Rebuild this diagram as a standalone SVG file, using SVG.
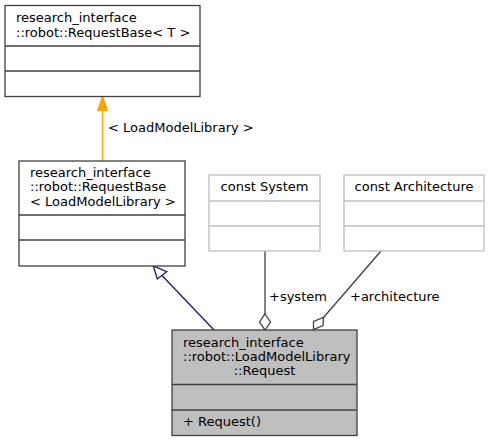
<svg xmlns="http://www.w3.org/2000/svg" width="490" height="441" viewBox="0 0 490 441">
<style>
text{font-family:"DejaVu Sans","Liberation Sans",sans-serif;font-size:13px;fill:#000}
.box{fill:#fff;stroke:#404040;stroke-width:1.3}
.gbox{fill:#fff;stroke:#bfbfbf;stroke-width:1.3}
.sep{stroke:#404040;stroke-width:1.3;fill:none}
.gsep{stroke:#bfbfbf;stroke-width:1.3;fill:none}
.mid{text-anchor:middle}
</style>
<rect width="490" height="441" fill="#fff"/>
<g id="connectors">
<g id="edge-template">
<line x1="102.5" y1="161" x2="102.5" y2="110" stroke="#ffa500" stroke-width="1.3"/>
<polygon points="102.5,96 107.5,110.5 97.5,110.5" fill="#ffa500" stroke="#ffa500" stroke-width="1"/>
<text x="108" y="132">&lt; LoadModelLibrary &gt;</text>
</g>
<g id="edge-inherit">
<line x1="214" y1="330" x2="162" y2="275.5" stroke="#191970" stroke-width="1.3"/>
<polygon points="153.3,266 157.3,279 166.7,271.7" fill="#fff" stroke="#191970" stroke-width="1.3"/>
</g>
<g id="edge-system">
<line x1="265" y1="251" x2="265" y2="314" stroke="#404040" stroke-width="1.3"/>
<polygon points="265,314 270.5,322 265,330 259.5,322" fill="#fff" stroke="#404040" stroke-width="1.3"/>
<text x="269" y="301">+system</text>
</g>
<g id="edge-architecture">
<line x1="381" y1="251" x2="323.5" y2="317.5" stroke="#404040" stroke-width="1.3"/>
<polygon points="323.5,317.5 323,325.5 313.5,329.5 313.5,321.5" fill="#fff" stroke="#404040" stroke-width="1.3"/>
<text x="350" y="301">+architecture</text>
</g>
</g>
<g id="node-requestbase-t">
<rect class="box" x="5" y="5.5" width="195" height="91"/>
<line class="sep" x1="5" y1="46" x2="200" y2="46"/>
<line class="sep" x1="5" y1="71" x2="200" y2="71"/>
<text x="16" y="21.5">research_interface</text>
<text x="16" y="36.5">::robot::RequestBase&lt; T &gt;</text>
</g>
<g id="node-requestbase-lml">
<rect class="box" x="19" y="161" width="166" height="105"/>
<line class="sep" x1="19" y1="215" x2="185" y2="215"/>
<line class="sep" x1="19" y1="240" x2="185" y2="240"/>
<text x="30" y="177">research_interface</text>
<text x="30" y="191">::robot::RequestBase</text>
<text x="30" y="205.5">&lt; LoadModelLibrary &gt;</text>
</g>
<g id="node-system">
<rect class="gbox" x="209" y="175" width="111" height="76"/>
<line class="gsep" x1="209" y1="201" x2="320" y2="201"/>
<line class="gsep" x1="209" y1="226" x2="320" y2="226"/>
<text class="mid" x="264.5" y="191">const System</text>
</g>
<g id="node-architecture">
<rect class="gbox" x="344" y="175" width="140" height="76"/>
<line class="gsep" x1="344" y1="201" x2="484" y2="201"/>
<line class="gsep" x1="344" y1="226" x2="484" y2="226"/>
<text class="mid" x="414" y="191">const Architecture</text>
</g>
<g id="node-request">
<rect x="172" y="330" width="185" height="105.5" fill="#bfbfbf" stroke="#404040" stroke-width="1.3"/>
<line class="sep" x1="172" y1="384.5" x2="357" y2="384.5"/>
<line class="sep" x1="172" y1="410" x2="357" y2="410"/>
<text x="183" y="346.5">research_interface</text>
<text x="183" y="361">::robot::LoadModelLibrary</text>
<text class="mid" x="264.5" y="375">::Request</text>
<text x="183" y="426">+ Request()</text>
</g>
</svg>
